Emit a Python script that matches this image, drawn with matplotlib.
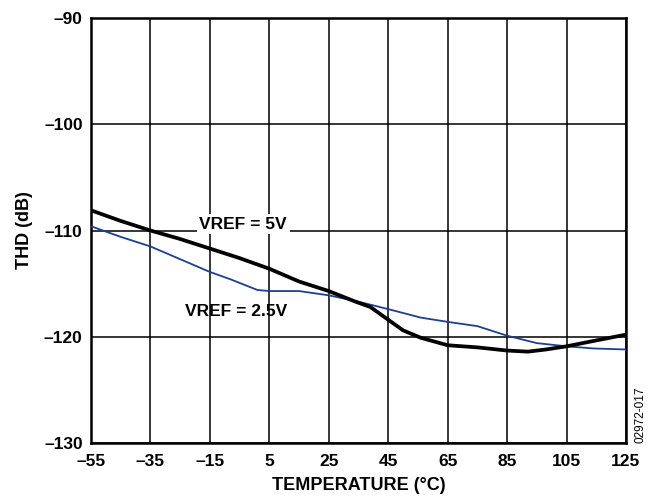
import numpy as np
import matplotlib.pyplot as plt

plt.rcParams['font.family'] = ['Liberation Sans', 'DejaVu Sans']

# THD vs temperature, VREF = 5V
temp_5v = [-55, -45, -35, -25, -15, -5, 5, 15, 25, 34, 39, 45, 50, 56, 65, 75, 85, 92, 98, 105, 114, 125]
thd_5v = [-108.1, -109.1, -110.0, -110.8, -111.7, -112.6, -113.6, -114.8, -115.7, -116.7, -117.2,
          -118.4, -119.4, -120.1, -120.8, -121.0, -121.3, -121.4, -121.2, -120.9, -120.4, -119.8]

# THD vs temperature, VREF = 2.5V
temp_25v = [-55, -45, -35, -25, -15, -8, 1, 5, 15, 25, 35, 45, 56, 65, 75, 85, 95, 105, 114, 125]
thd_25v = [-109.6, -110.6, -111.5, -112.7, -113.9, -114.6, -115.6, -115.7, -115.7, -116.1,
           -116.7, -117.4, -118.2, -118.6, -119.0, -119.9, -120.6, -120.9, -121.1, -121.2]

xticks = np.arange(-55, 126, 20)
yticks = np.arange(-130, -89, 10)

fig = plt.figure(figsize=(6.62, 4.98), dpi=100)
ax = fig.add_axes([91 / 662, 1 - 443 / 498, 535 / 662, 425 / 498])

ax.plot(temp_25v, thd_25v, color='#1c3f8f', lw=1.3, zorder=3)
ax.plot(temp_5v, thd_5v, color='black', lw=2.7, zorder=4)

ax.set_xlim(-55, 125)
ax.set_ylim(-130, -90)
ax.set_xticks(xticks)
ax.set_yticks(yticks)
ax.set_xticklabels([str(t).replace('-', '\u2013') for t in xticks], fontweight='bold', fontsize=12.5)
ax.set_yticklabels([str(t).replace('-', '\u2013') for t in yticks], fontweight='bold', fontsize=12.5)
ax.tick_params(length=0)
ax.tick_params(axis='x', pad=8)
ax.tick_params(axis='y', pad=6)
ax.grid(True, color='black', lw=1.1)
ax.set_axisbelow(True)
for s in ax.spines.values():
    s.set_linewidth(1.8)

ax.set_xlabel('TEMPERATURE (\u00b0C)', fontweight='bold', fontsize=13, labelpad=6)
ax.set_ylabel('THD (dB)', fontweight='bold', fontsize=13, labelpad=8)

ax.text(-3.8, -109.4, 'VREF = 5V', fontweight='bold', fontsize=12.5, ha='center', va='center',
        bbox=dict(facecolor='white', edgecolor='none', pad=2), zorder=5)
ax.text(-6.2, -117.6, 'VREF = 2.5V', fontweight='bold', fontsize=12.5,
        ha='center', va='center', zorder=5)

fig.text(640 / 662, 1 - 415 / 498, '02972-017', rotation=90, fontsize=8.5,
         ha='center', va='center')

fig.savefig('out.png', dpi=100)
